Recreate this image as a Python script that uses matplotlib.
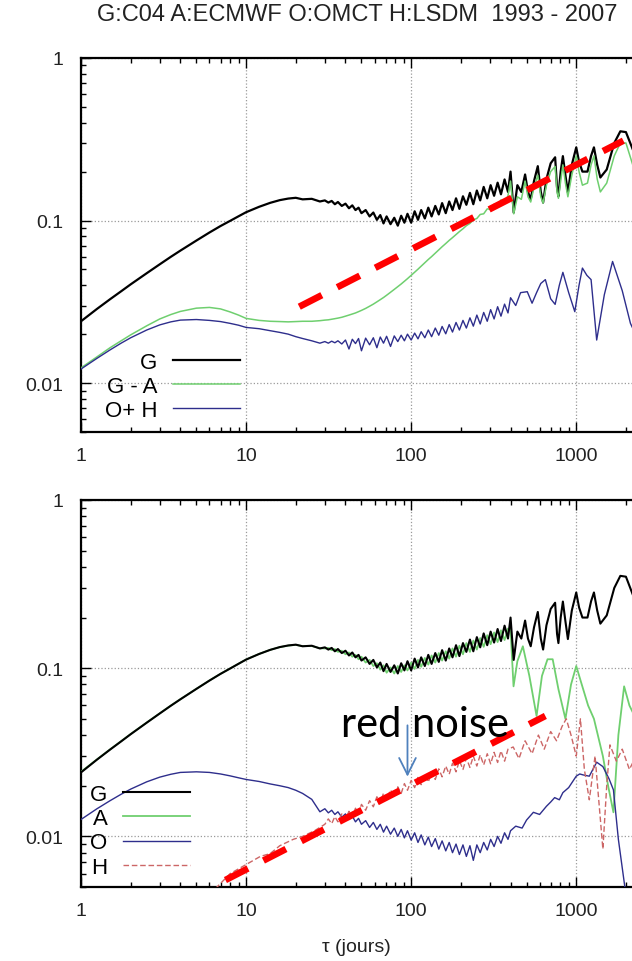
import matplotlib
matplotlib.use("Agg")
import matplotlib.pyplot as plt
import matplotlib.ticker as mticker

plt.rcParams['font.family'] = ['Liberation Sans', 'DejaVu Sans']

# tau grids (days)
tau_smooth = [1, 1.25, 1.5, 1.75, 2, 2.5, 3, 3.5, 4, 5, 6, 7, 8, 9, 10, 12, 14,
              16, 18, 20, 22, 25, 28]
tau_noise = [30, 31.5, 33, 34.5, 36, 38, 40, 42, 44, 46, 48, 50, 53, 56, 59, 62,
             65, 68, 71, 75, 79, 83, 87, 91, 95, 100, 105, 110, 115, 121, 127,
             133, 140, 147, 154, 162, 170, 178, 187, 196, 206, 216, 227, 238,
             250, 262, 275, 289, 303, 318, 334, 350, 368, 386]
tau_zig = [400, 418, 440, 465, 490, 510, 530, 555, 585, 610, 630, 660, 700, 745,
           765, 780, 805, 830, 860, 890, 940, 1000, 1040, 1090, 1170, 1230,
           1280, 1340, 1400, 1530, 1700, 1850, 2000, 2200, 2400]

# ---- top panel ----
g_smooth = [0.024, 0.0286, 0.0328, 0.0367, 0.0405, 0.0474, 0.0538, 0.0598,
            0.0653, 0.0753, 0.0844, 0.0925, 0.0995, 0.1062, 0.1125, 0.1215,
            0.1285, 0.1335, 0.1365, 0.138, 0.135, 0.136, 0.131]
g_noise = [0.133, 0.129, 0.132, 0.126, 0.130, 0.123, 0.127, 0.119, 0.124, 0.116,
           0.120, 0.111, 0.116, 0.106, 0.112, 0.101, 0.108, 0.096, 0.106, 0.095,
           0.104, 0.093, 0.107, 0.097, 0.110, 0.097, 0.114, 0.101, 0.116, 0.103,
           0.120, 0.106, 0.123, 0.109, 0.128, 0.111, 0.131, 0.116, 0.137, 0.118,
           0.141, 0.125, 0.148, 0.126, 0.153, 0.133, 0.161, 0.137, 0.165, 0.142,
           0.171, 0.145, 0.179, 0.150]
g_zig = [0.200, 0.112, 0.165, 0.150, 0.192, 0.150, 0.135, 0.175, 0.216, 0.150,
         0.129, 0.180, 0.225, 0.245, 0.160, 0.141, 0.200, 0.249, 0.190, 0.149,
         0.220, 0.282, 0.230, 0.200, 0.200, 0.250, 0.282, 0.220, 0.184, 0.206,
         0.300, 0.354, 0.350, 0.274, 0.220]

ga_smooth = [0.0124, 0.0145, 0.0165, 0.0182, 0.0198, 0.0225, 0.0248, 0.0264,
             0.0276, 0.0289, 0.0292, 0.0286, 0.0274, 0.0262, 0.0250, 0.0243,
             0.0240, 0.0239, 0.0238, 0.0239, 0.0240, 0.0240, 0.0242]
ga_noise = [0.0244, 0.0245, 0.0247, 0.0249, 0.0251, 0.0254, 0.0258, 0.0262,
            0.0266, 0.0270, 0.0275, 0.0280, 0.0288, 0.0297, 0.0306, 0.0316,
            0.0326, 0.0336, 0.0347, 0.0362, 0.0377, 0.0392, 0.0407, 0.0423,
            0.0439, 0.046, 0.0481, 0.0502, 0.0524, 0.055, 0.0576, 0.060, 0.063,
            0.066, 0.069, 0.0722, 0.0755, 0.0785, 0.082, 0.0855, 0.089, 0.093,
            0.096, 0.101, 0.103, 0.109, 0.110, 0.118, 0.117, 0.126, 0.122,
            0.134, 0.127, 0.142]
ga_zig = [0.175, 0.110, 0.140, 0.135, 0.175, 0.140, 0.130, 0.160, 0.190, 0.140,
          0.128, 0.165, 0.200, 0.215, 0.150, 0.137, 0.175, 0.220, 0.170, 0.140,
          0.190, 0.250, 0.200, 0.165, 0.170, 0.220, 0.250, 0.180, 0.150, 0.170,
          0.250, 0.300, 0.300, 0.220, 0.180]

oh_smooth = [0.0122, 0.0142, 0.0160, 0.0176, 0.0190, 0.0212, 0.0228, 0.0238,
             0.0244, 0.0246, 0.0243, 0.0239, 0.0233, 0.0227, 0.0220, 0.0216,
             0.0210, 0.0205, 0.0200, 0.0193, 0.0188, 0.0182, 0.0176]
oh_noise = [0.0180, 0.0176, 0.0181, 0.0177, 0.0182, 0.0174, 0.0184, 0.0162,
            0.0186, 0.0175, 0.0188, 0.0158, 0.0189, 0.0172, 0.0190, 0.0165,
            0.0192, 0.0176, 0.0194, 0.0168, 0.0195, 0.0180, 0.0197, 0.0182,
            0.0200, 0.0184, 0.0203, 0.0187, 0.0207, 0.0190, 0.0212, 0.0193,
            0.0218, 0.0197, 0.0223, 0.0201, 0.0229, 0.0206, 0.0236, 0.0212,
            0.0243, 0.0218, 0.0252, 0.0224, 0.0262, 0.0231, 0.0272, 0.0240,
            0.0283, 0.0248, 0.0295, 0.0258, 0.0306, 0.0270]
oh_zig_tau = [400, 430, 460, 505, 540, 575, 610, 650, 700, 745, 790, 830, 900,
              980, 1040, 1090, 1160, 1230, 1330, 1480, 1660, 1900, 2130, 2400]
oh_zig = [0.0335, 0.030, 0.036, 0.0365, 0.031, 0.036, 0.041, 0.0433, 0.033,
          0.0305, 0.040, 0.048, 0.036, 0.0275, 0.040, 0.051, 0.046, 0.0433,
          0.0184, 0.035, 0.056, 0.037, 0.0233, 0.018]

trend_top_tau = [21, 1930]
trend_top_val = [0.0295, 0.31]

# ---- bottom panel ----
a_smooth = [0.0242, 0.0287, 0.0329, 0.0368, 0.0406, 0.0475, 0.0539, 0.0599,
            0.0654, 0.0754, 0.0845, 0.0926, 0.0996, 0.1063, 0.1126, 0.1216,
            0.1286, 0.1334, 0.1362, 0.1376, 0.1352, 0.1355, 0.1315]
a_noise = [0.131, 0.132, 0.128, 0.130, 0.125, 0.127, 0.121, 0.124, 0.117, 0.120,
           0.113, 0.117, 0.108, 0.112, 0.103, 0.107, 0.098, 0.104, 0.094, 0.101,
           0.093, 0.103, 0.095, 0.104, 0.097, 0.108, 0.099, 0.112, 0.102, 0.115,
           0.105, 0.119, 0.108, 0.123, 0.111, 0.126, 0.114, 0.131, 0.117, 0.136,
           0.121, 0.141, 0.125, 0.146, 0.129, 0.151, 0.134, 0.157, 0.139, 0.163,
           0.143, 0.168, 0.147, 0.172]
a_zig_tau = [400, 417, 440, 475, 520, 575, 620, 670, 720, 780, 860, 930, 1000,
             1080, 1180, 1280, 1450, 1560, 1680, 1800, 1950, 2100, 2300, 2400]
a_zig = [0.170, 0.078, 0.110, 0.135, 0.090, 0.052, 0.090, 0.113, 0.113, 0.075,
         0.050, 0.080, 0.103, 0.080, 0.060, 0.050, 0.030, 0.020, 0.0139, 0.040,
         0.078, 0.060, 0.050, 0.045]

o_smooth = [0.0126, 0.0146, 0.0163, 0.0178, 0.0191, 0.0211, 0.0225, 0.0234,
            0.0240, 0.0242, 0.0240, 0.0235, 0.0229, 0.0223, 0.0218, 0.0212,
            0.0205, 0.0200, 0.0195, 0.0188, 0.0180, 0.0166, 0.0140]
o_noise = [0.0146, 0.0138, 0.0143, 0.0135, 0.0140, 0.0130, 0.0136, 0.0126,
           0.0132, 0.0122, 0.0128, 0.0118, 0.0124, 0.0113, 0.0121, 0.0110,
           0.0118, 0.0106, 0.0115, 0.0103, 0.0112, 0.0100, 0.0110, 0.0098,
           0.0108, 0.0095, 0.0105, 0.0092, 0.0102, 0.0089, 0.0099, 0.0087,
           0.0097, 0.0084, 0.0094, 0.0082, 0.0092, 0.0080, 0.0090, 0.0078,
           0.0089, 0.0076, 0.0088, 0.0072, 0.0089, 0.0080, 0.0092, 0.0083,
           0.0096, 0.0087, 0.0100, 0.0091, 0.0105, 0.0096]
o_zig_tau = [400, 430, 470, 500, 550, 600, 660, 700, 740, 790, 830, 900, 1000,
             1050, 1100, 1200, 1330, 1450, 1580, 1680, 1800, 1970, 2100]
o_zig = [0.0108, 0.0115, 0.0112, 0.0125, 0.0139, 0.0135, 0.0151, 0.0160,
         0.0170, 0.0165, 0.0182, 0.0195, 0.0228, 0.0235, 0.0232, 0.0228,
         0.0276, 0.0260, 0.0220, 0.0189, 0.0096, 0.0050, 0.0030]

h_start_tau = [6, 8, 10, 12.2, 14, 16, 19.3, 22, 26]
h_start = [0.0045, 0.0060, 0.0068, 0.0076, 0.0079, 0.0088, 0.0096, 0.0100,
           0.0108]
h_noise = [0.0118, 0.0127, 0.0119, 0.0131, 0.0122, 0.0136, 0.0126, 0.0141,
           0.0131, 0.0147, 0.0136, 0.0155, 0.0143, 0.0163, 0.0150, 0.0172,
           0.0157, 0.0181, 0.0165, 0.0189, 0.0172, 0.0197, 0.0180, 0.0206,
           0.0188, 0.0215, 0.0195, 0.0224, 0.0203, 0.0233, 0.0210, 0.0242,
           0.0218, 0.0252, 0.0226, 0.0262, 0.0234, 0.0272, 0.0242, 0.0282,
           0.0250, 0.0292, 0.0257, 0.0300, 0.0262, 0.0305, 0.0266, 0.0310,
           0.0270, 0.0316, 0.0275, 0.0322, 0.0280, 0.0330]
h_zig_tau = [415, 450, 490, 540, 590, 640, 700, 760, 820, 870, 930, 1000, 1060,
             1120, 1200, 1300, 1450, 1530, 1600, 1750, 1900, 2100, 2300, 2400]
h_zig = [0.034, 0.029, 0.037, 0.031, 0.040, 0.033, 0.042, 0.037, 0.045, 0.050,
         0.040, 0.030, 0.050, 0.025, 0.0165, 0.030, 0.0084, 0.020, 0.035, 0.028,
         0.033, 0.025, 0.030, 0.028]

trend_bot_tau = [7.5, 650]
trend_bot_val = [0.0055, 0.052]

arrow_tau = 95
arrow_tip, arrow_tail = 0.0218, 0.0475

BLACK = 'black'
GREEN = '#6fcf6f'
BLUE = '#2e2e8c'
HCOL = '#cc6666'
RED = '#ff0000'


def style_axis(ax):
    ax.set_xscale('log')
    ax.set_yscale('log')
    ax.set_xlim(1, 3000)
    ax.set_ylim(0.005, 1)
    ax.xaxis.set_major_locator(mticker.LogLocator(base=10))
    ax.xaxis.set_minor_locator(mticker.LogLocator(base=10, subs=range(2, 10)))
    ax.yaxis.set_major_locator(mticker.LogLocator(base=10))
    ax.yaxis.set_minor_locator(mticker.LogLocator(base=10, subs=range(2, 10)))
    fmt = mticker.FuncFormatter(lambda v, _: '%g' % v)
    ax.xaxis.set_major_formatter(fmt)
    ax.yaxis.set_major_formatter(fmt)
    ax.xaxis.set_minor_formatter(mticker.NullFormatter())
    ax.yaxis.set_minor_formatter(mticker.NullFormatter())
    ax.tick_params(which='both', direction='in', top=True, right=True,
                   labelsize=14, labelcolor='#222222', width=1)
    ax.tick_params(which='major', length=7)
    ax.tick_params(which='minor', length=3.5)
    ax.tick_params(axis='y', pad=13)
    ax.tick_params(axis='x', pad=11)
    ax.grid(True, which='major', linestyle=':', color='#9a9a9a', linewidth=0.9)
    for s in ax.spines.values():
        s.set_linewidth(1.6)


def red_trend(ax, t, v):
    ax.plot(t, v, color=RED, lw=4.8, dashes=(3.8, 2.6), dash_capstyle='butt',
            zorder=6)


fig = plt.figure(figsize=(6.32, 9.62), dpi=100)
ax1 = fig.add_axes([81 / 632, 529 / 962, 574 / 632, 374 / 962])
ax2 = fig.add_axes([81 / 632, 74 / 962, 574 / 632, 387 / 962])

# top panel
ax1.plot(tau_smooth + tau_noise + tau_zig, g_smooth + g_noise + g_zig,
         color=BLACK, lw=1.6, label='G', zorder=3)
ax1.plot(tau_smooth + tau_noise + tau_zig, ga_smooth + ga_noise + ga_zig,
         color=GREEN, lw=1.1, label='G - A', zorder=4)
ax1.plot(tau_smooth + tau_noise + oh_zig_tau, oh_smooth + oh_noise + oh_zig,
         color=BLUE, lw=1.0, label='O+ H', zorder=4)
red_trend(ax1, trend_top_tau, trend_top_val)
style_axis(ax1)
ax1.legend(loc='lower left', bbox_to_anchor=(0.042, 0.03), markerfirst=False,
           frameon=False, fontsize=16, handlelength=3.0, handletextpad=0.7,
           labelspacing=0.13, borderpad=0, borderaxespad=0)

# bottom panel
ax2.plot(tau_smooth + tau_noise + a_zig_tau, a_smooth + a_noise + a_zig,
         color=GREEN, lw=1.3, label='A', zorder=3)
ax2.plot(tau_smooth + tau_noise + tau_zig, g_smooth + g_noise + g_zig,
         color=BLACK, lw=1.5, label='G', zorder=4)
ax2.plot(tau_smooth + tau_noise + o_zig_tau, o_smooth + o_noise + o_zig,
         color=BLUE, lw=1.0, label='O', zorder=4)
ax2.plot(h_start_tau + tau_noise + h_zig_tau, h_start + h_noise + h_zig,
         color=HCOL, lw=1.0, dashes=(4, 2), label='H', zorder=4)
red_trend(ax2, trend_bot_tau, trend_bot_val)
style_axis(ax2)
h, l = ax2.get_legend_handles_labels()
order = [1, 0, 2, 3]
ax2.legend([h[i] for i in order], [l[i] for i in order], loc='lower left',
           bbox_to_anchor=(0.016, 0.024), markerfirst=False, frameon=False,
           fontsize=16, handlelength=3.0, handletextpad=0.7,
           labelspacing=0.15, borderpad=0, borderaxespad=0)

ax2.annotate('', xy=(arrow_tau, arrow_tip), xytext=(arrow_tau, arrow_tail),
             arrowprops=dict(arrowstyle='->,head_length=1.2,head_width=0.6',
                             color='#4f81bd', lw=1.3), zorder=7)
ax2.text(121, 0.0394, 'red noise', family=['Lato', 'DejaVu Sans'], fontsize=30,
         ha='center', va='baseline', color='black', zorder=8)

fig.text(357 / 632, 1 - 15 / 962, 'G:C04 A:ECMWF O:OMCT H:LSDM  1993 - 2007',
         ha='center', va='center', fontsize=17, color='#222222')
fig.text(356 / 632, 1 - 948 / 962, 'τ (jours)', ha='center', va='center',
         fontsize=14, color='#222222')

fig.savefig('out.png', dpi=100)
